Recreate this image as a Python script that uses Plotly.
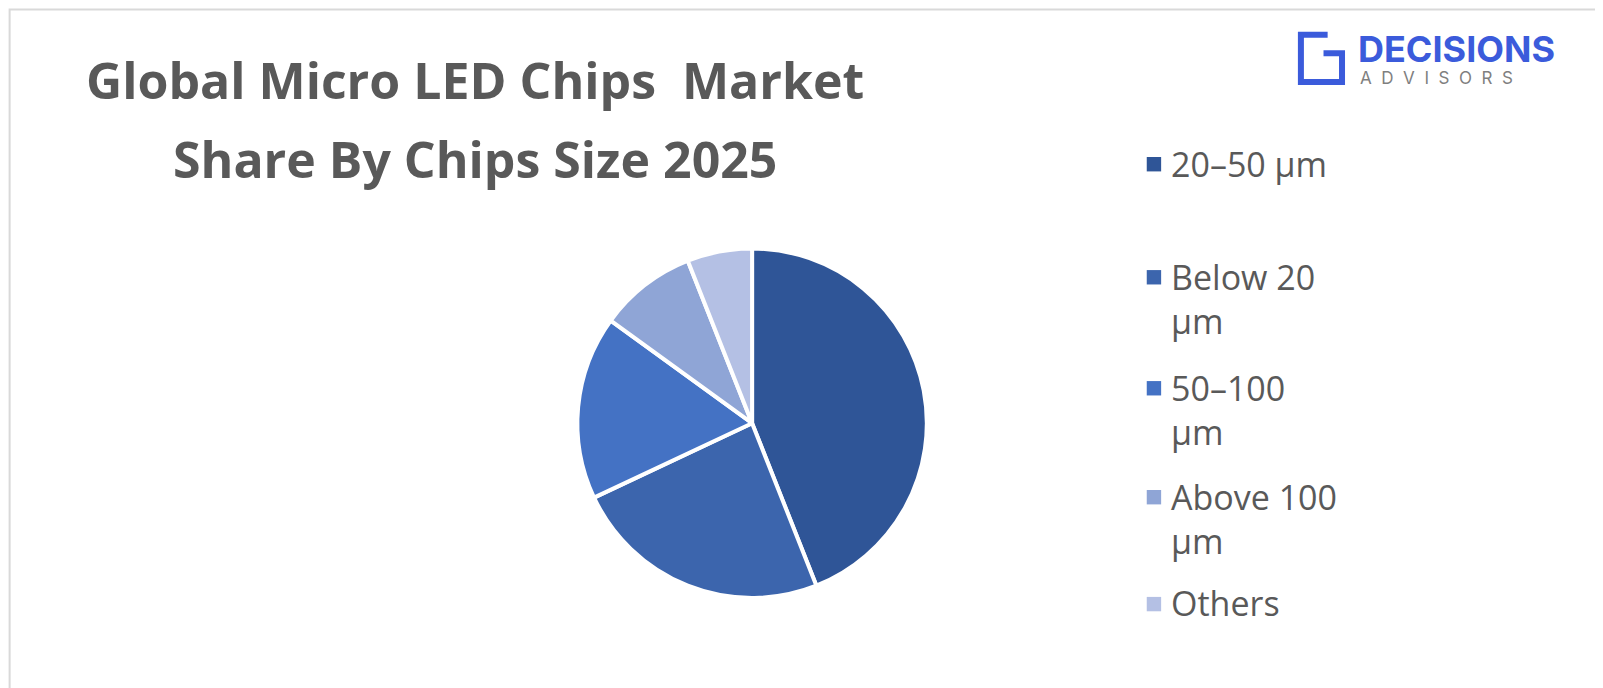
import plotly.graph_objects as go

labels = ['20–50 µm', 'Below 20 µm', '50–100 µm', 'Above 100 µm', 'Others']
legend_text = ['20–50 µm', 'Below 20<br>µm', '50–100<br>µm', 'Above 100<br>µm', 'Others']
shares = [44, 24, 17, 9, 6]
colors = ['#2F5597', '#3C65AD', '#4472C4', '#8FA5D6', '#B4C0E4']
title_lines = ['Global Micro LED Chips  Market', 'Share By Chips Size 2025']

# reference pixel positions mapped into figure coordinates
S, OFF = 0.973, 8
W, H = 1620, 690


def px(x):
    return ((x - OFF) / S) / W


def py(y):
    return 1 - ((y - OFF) / S) / H


fig = go.Figure(go.Pie(
    labels=labels, values=shares, sort=False, direction='clockwise', rotation=0,
    marker=dict(colors=colors, line=dict(color='white', width=4)),
    textinfo='none', showlegend=False,
    domain=dict(x=[px(732 - 170), px(902)], y=[py(582), py(242)]),
))

for line, yy in zip(title_lines, [78, 155]):
    fig.add_annotation(text=f'<b>{line}</b>', x=px(462), y=py(yy), xref='paper', yref='paper',
                       showarrow=False, xanchor='center', yanchor='middle',
                       font=dict(family='Open Sans', size=50, color='#595959'))

legend_y = [160, 270, 378, 484, 588]
for txt, c, yy in zip(legend_text, colors, legend_y):
    fig.add_shape(type='rect', xref='paper', yref='paper',
                  x0=px(1116), x1=px(1130), y0=py(yy + 7), y1=py(yy - 7),
                  fillcolor=c, line=dict(width=0))
    fig.add_annotation(text=txt, x=px(1138), y=py(yy - 25), xref='paper', yref='paper',
                       xanchor='left', yanchor='top', showarrow=False, align='left',
                       font=dict(family='Open Sans', size=34, color='#595959'))

# logo
fig.add_shape(type='path', xref='paper', yref='paper',
              path=f'M {px(1292)} {py(34)} L {px(1266)} {py(34)} L {px(1266)} {py(80)} '
                   f'L {px(1306)} {py(80)} L {px(1306)} {py(52)} L {px(1288)} {py(52)}',
              line=dict(color='#3B5BDB', width=6))
fig.add_annotation(text='<b>DECISIONS</b>', x=px(1320), y=py(48), xref='paper', yref='paper',
                   xanchor='left', yanchor='middle', showarrow=False,
                   font=dict(family='Inter', size=36, color='#3B5BDB'))
fig.add_annotation(text='A  D  V  I  S  O  R  S', x=px(1322), y=py(76), xref='paper', yref='paper',
                   xanchor='left', yanchor='middle', showarrow=False,
                   font=dict(family='Inter', size=17, color='#7F7F7F'))

fig.add_shape(type='rect', xref='paper', yref='paper', x0=0.001, x1=0.999, y0=0.002, y1=0.998,
              line=dict(color='#D9D9D9', width=2))

fig.update_layout(width=W, height=H, margin=dict(l=0, r=0, t=0, b=0),
                  paper_bgcolor='white', plot_bgcolor='white')
fig.write_html('out.html')
